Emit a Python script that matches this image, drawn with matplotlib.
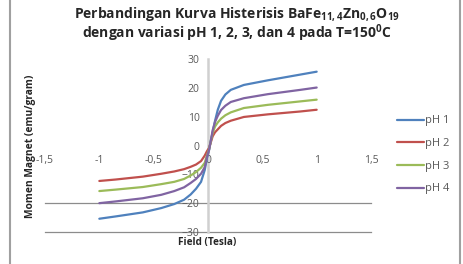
import matplotlib
matplotlib.use('Agg')
import matplotlib.pyplot as plt
from matplotlib.patches import Rectangle

# field values (Tesla)
field = [-1.0, -0.85, -0.6, -0.43, -0.31, -0.22, -0.16, -0.11, -0.064, -0.03, -0.01,
         0.01, 0.025, 0.043, 0.065, 0.09, 0.12, 0.16, 0.21, 0.33, 0.55, 0.85, 1.0]

# magnetisation (emu/gram) for each pH
ph1 = [-25.4, -24.6, -23.2, -21.7, -20.3, -18.8, -17.0, -15.0, -12.6, -8.5, -4.5,
       -1.5, 1.5, 4.6, 8.6, 12.4, 15.5, 17.7, 19.3, 21.0, 22.6, 24.6, 25.6]
ph2 = [-12.3, -11.8, -10.8, -9.8, -9.0, -8.2, -7.4, -6.6, -5.4, -3.5, -2.0,
       -0.8, 1.0, 3.2, 4.6, 5.6, 6.8, 7.8, 8.6, 9.9, 10.8, 11.8, 12.4]
ph3 = [-15.8, -15.3, -14.4, -13.4, -12.6, -11.6, -10.4, -9.2, -7.7, -6.0, -3.5,
       -1.3, 1.3, 4.4, 6.6, 8.0, 9.3, 10.5, 11.5, 13.0, 14.1, 15.3, 15.9]
ph4 = [-20.0, -19.4, -18.3, -17.1, -15.8, -14.5, -13.0, -11.6, -9.8, -7.5, -4.0,
       -1.5, 1.5, 5.3, 8.2, 10.3, 12.3, 13.8, 15.1, 16.4, 17.8, 19.3, 20.1]

labels = ['pH 1', 'pH 2', 'pH 3', 'pH 4']
colors = ['#4F81BD', '#C0504D', '#9BBB59', '#8064A2']
xticks = [-1.5, -1, -0.5, 0, 0.5, 1, 1.5]
xticklabels = ['-1,5', '-1', '-0,5', '0', '0,5', '1', '1,5']
yticks = [-30, -20, -10, 0, 10, 20, 30]

plt.rcParams['font.family'] = ['Open Sans', 'DejaVu Sans']
plt.rcParams['mathtext.fontset'] = 'custom'
plt.rcParams['mathtext.rm'] = 'Open Sans:bold'
plt.rcParams['mathtext.it'] = 'Open Sans:bold:italic'
plt.rcParams['mathtext.bf'] = 'Open Sans:bold'

fig = plt.figure(figsize=(4.63, 2.64), dpi=100)
ax = fig.add_axes([45/463, 1 - 232/264, 326/463, 173/264])

# chart border
fig.patches.append(Rectangle((10/463, -0.05), 450/463, 1.1, transform=fig.transFigure,
                             fill=False, edgecolor='#a0a0a0', linewidth=1.5))

for ys, lab, col in zip([ph1, ph2, ph3, ph4], labels, colors):
    ax.plot(field, ys, color=col, linewidth=1.6, label=lab,
            solid_capstyle='round', solid_joinstyle='round')

ax.set_xlim(-1.5, 1.5)
ax.set_ylim(-30, 30)

# only the two lower gridlines are visible in the picture
for g in [-20, -30]:
    ax.axhline(g, color='#8c8c8c', linewidth=0.9, zorder=0, clip_on=False)

for s in ['top', 'right']:
    ax.spines[s].set_visible(False)
ax.spines['left'].set_position(('data', 0))
ax.spines['left'].set_color('#d0d0d0')
ax.spines['left'].set_linewidth(1.8)
ax.spines['left'].set_zorder(0)
ax.spines['bottom'].set_position(('data', 0))
ax.spines['bottom'].set_visible(False)

ax.set_xticks(xticks)
ax.set_xticklabels(xticklabels)
ax.set_yticks(yticks)
ax.tick_params(axis='both', length=0, labelsize=7.5, labelcolor='#595959')
ax.tick_params(axis='x', pad=7)
ax.tick_params(axis='y', pad=6)

fig.text(30/463, 1 - 146/264, 'Momen Magnet (emu/gram)', rotation=90, ha='center', va='center',
         fontsize=7.4, fontweight='bold', color='#262626')
fig.text(207/463, 1 - 243/264, 'Field (Tesla)', ha='center', va='center',
         fontsize=7.2, fontweight='bold', color='#262626')

fig.text(237/463, 1 - 14/264, r'Perbandingan Kurva Histerisis BaFe$_{11,4}$Zn$_{\mathit{0,6}}$O$_{19}$',
         ha='center', va='center', fontsize=10, fontweight='bold', color='#262626')
fig.text(237/463, 1 - 33/264, r'dengan variasi pH 1, 2, 3, dan 4 pada T=150$^{0}$C',
         ha='center', va='center', fontsize=10, fontweight='bold', color='#262626')

leg = fig.legend(loc='center left', bbox_to_anchor=(397/463, 1 - 155/264), frameon=False,
                 fontsize=8, handlelength=2.4, handletextpad=0.15, labelspacing=1.05,
                 borderpad=0, borderaxespad=0)
for t in leg.get_texts():
    t.set_color('#595959')

fig.savefig('out.png', dpi=100)
